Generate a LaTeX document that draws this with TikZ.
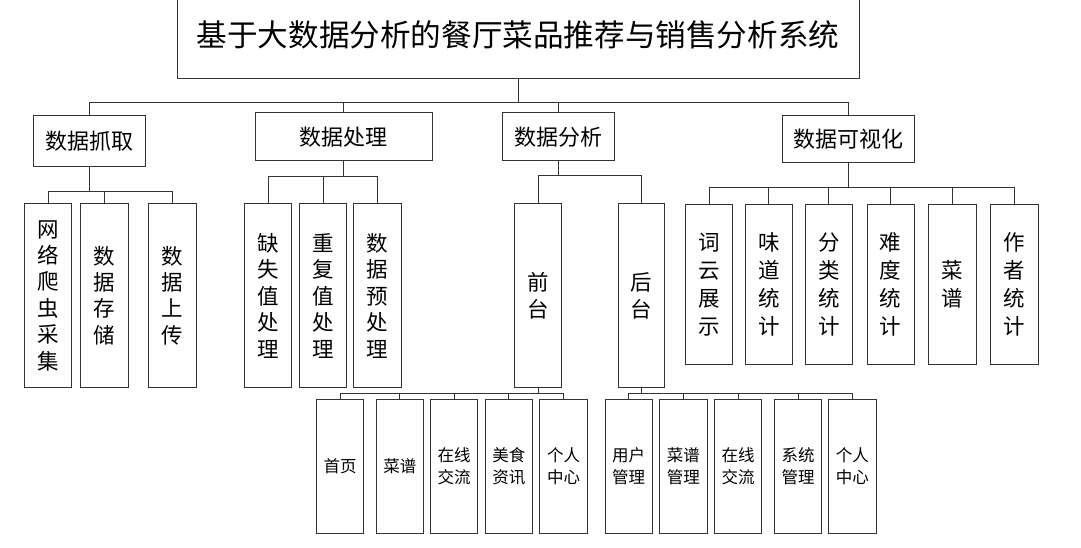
\documentclass[tikz,border=0pt]{standalone}
\usepackage{fontspec}
\setmainfont{Noto Sans CJK SC}
\begin{document}
\begin{tikzpicture}[x=1pt,y=-1pt,
  box/.style={draw=black!80, line width=0.9pt, inner sep=0pt, align=center},
  link/.style={draw=black!80, line width=0.9pt},
  lone/.style={box, minimum width=112pt, minimum height=48pt, font=\fontsize{22}{26}\selectfont},
  tall/.style={box, minimum width=47.4pt, minimum height=184pt, font=\fontsize{21.5}{26.4}\selectfont},
  vis/.style={box, minimum width=47.4pt, minimum height=159.7pt, font=\fontsize{21.5}{28}\selectfont},
  leaf/.style={box, minimum width=47.4pt, minimum height=134.2pt, font=\fontsize{16.5}{22}\selectfont}]
\useasboundingbox (0,0) rectangle (1081,547);
% title
\node[box, minimum width=682pt, minimum height=80pt, text depth=9pt, font=\fontsize{30.6}{36}\selectfont] (title) at (518,38) {基于大数据分析的餐厅菜品推荐与销售分析系统};
% level 1
\node[lone, minimum width=112pt, minimum height=51pt] (a1) at (89.3,140.7) {数据抓取};
\node[lone, minimum width=176.5pt] (a2) at (343.7,136.7) {数据处理};
\node[lone] (a3) at (558.3,136.7) {数据分析};
\node[lone, minimum width=132pt, minimum height=47.7pt] (a4) at (848,138.8) {数据可视化};
% level 2: a1
\node[tall] (b11) at (48,295.5) {网\\络\\爬\\虫\\采\\集};
\node[tall] (b12) at (104.3,295.5) {数\\据\\存\\储};
\node[tall] (b13) at (172.5,295.5) {数\\据\\上\\传};
% level 2: a2
\node[tall] (b21) at (268.2,295.8) {缺\\失\\值\\处\\理};
\node[tall] (b22) at (323.2,295.8) {重\\复\\值\\处\\理};
\node[tall] (b23) at (377.5,295.8) {数\\据\\预\\处\\理};
% level 2: a3
\node[tall, minimum width=46.5pt, font=\fontsize{21.5}{27}\selectfont] (front) at (538,295.7) {前\\台};
\node[tall, minimum width=46.5pt, font=\fontsize{21.5}{27}\selectfont] (back) at (641.4,295.7) {后\\台};
% level 2: a4
\node[vis] (c1) at (709,284.2) {词\\云\\展\\示};
\node[vis] (c2) at (768.8,284.2) {味\\道\\统\\计};
\node[vis] (c3) at (828.8,284.2) {分\\类\\统\\计};
\node[vis] (c4) at (890.7,284.2) {难\\度\\统\\计};
\node[vis] (c5) at (952.3,284.2) {菜\\谱};
\node[vis] (c6) at (1014.3,284.2) {作\\者\\统\\计};
% level 3: front
\node[leaf] (f1) at (340,466.4) {首页};
\node[leaf] (f2) at (399.9,466.4) {菜谱};
\node[leaf] (f3) at (454,466.4) {在线\\交流};
\node[leaf] (f4) at (508.8,466.4) {美食\\资讯};
\node[leaf] (f5) at (563.5,466.4) {个人\\中心};
% level 3: back
\node[leaf] (g1) at (628.7,466.4) {用户\\管理};
\node[leaf] (g2) at (683.3,466.4) {菜谱\\管理};
\node[leaf] (g3) at (738,466.4) {在线\\交流};
\node[leaf] (g4) at (798,466.4) {系统\\管理};
\node[leaf] (g5) at (852.3,466.4) {个人\\中心};
% bus levels
\coordinate (bus0) at (0,102);
\coordinate (bus1) at (0,191.7);
\coordinate (bus2) at (0,176.7);
\coordinate (bus3) at (0,175);
\coordinate (bus4) at (0,187.3);
\coordinate (bus5) at (0,393.3);
% connectors
\foreach \c in {a1,a2,a3,a4}
  \draw[link] (title.south) -- (title.south |- bus0) -| (\c.north);
\foreach \c in {b11,b12,b13}
  \draw[link] (a1.south) -- (a1.south |- bus1) -| (\c.north);
\foreach \c in {b21,b22,b23}
  \draw[link] (a2.south) -- (a2.south |- bus2) -| (\c.north);
\foreach \c in {front,back}
  \draw[link] (a3.south) -- (a3.south |- bus3) -| (\c.north);
\foreach \c in {c1,c2,c3,c4,c5,c6}
  \draw[link] (a4.south) -- (a4.south |- bus4) -| (\c.north);
\foreach \c in {f1,f2,f3,f4,f5}
  \draw[link] (front.south) -- (front.south |- bus5) -| (\c.north);
\foreach \c in {g1,g2,g3,g4,g5}
  \draw[link] (back.south) -- (back.south |- bus5) -| (\c.north);
\end{tikzpicture}
\end{document}
